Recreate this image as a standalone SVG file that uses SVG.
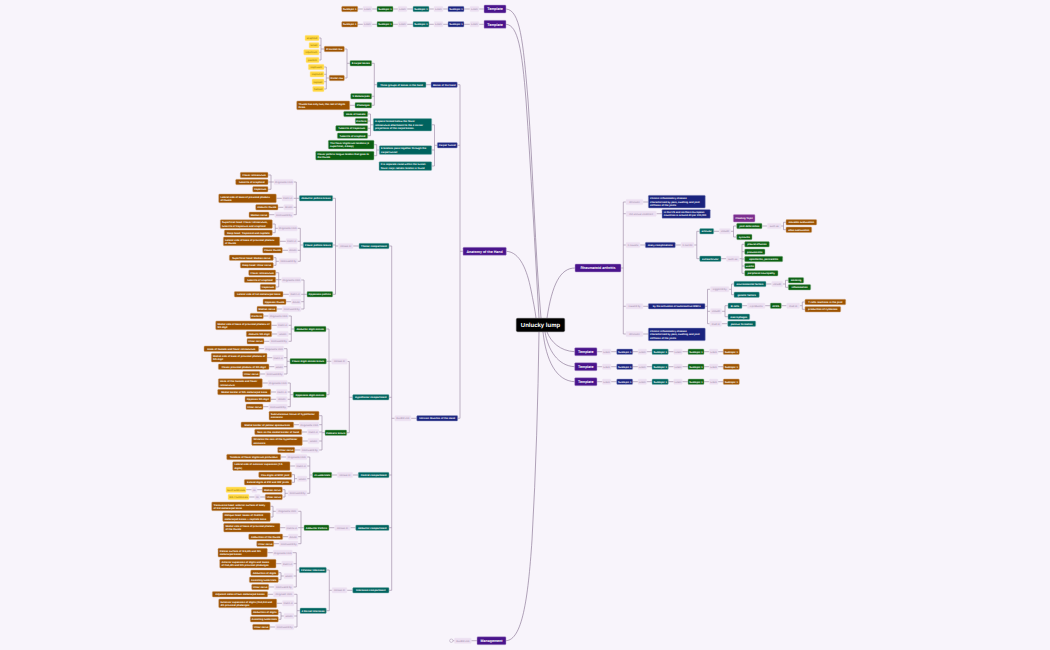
<svg xmlns="http://www.w3.org/2000/svg" width="1050" height="650" viewBox="0 0 1050 650">
<style>
text{font-family:"Liberation Sans",Arial,sans-serif;font-size:2.6px;font-weight:700;fill:#fff;text-anchor:middle;text-rendering:geometricPrecision}
rect{rx:.9px;stroke-width:.5}
.p rect{fill:#4a148c;stroke:#b89fd0}.p text{font-size:3.6px}
.b rect{fill:#1a237e;stroke:#a3a7cc}
.t rect{fill:#00635f;stroke:#8dbdbb}
.g rect{fill:#0b5f12;stroke:#93bd96}
.o rect{fill:#9c5200;stroke:#d3ab80}
.y rect{fill:#ffd740;stroke:#ffe9a0}.y text{fill:#8a6d00;font-weight:400}
.l rect{fill:#ecdff1;stroke:#f1e8f5}.l text{fill:#9a87a6;font-weight:400}
.f rect{fill:#7b2d8e;stroke:#c9a0d2}
.w text{text-anchor:start}
.r rect{fill:#000;stroke:#444;rx:1.4px}.r text{font-size:6px}
#connectors path{fill:none;stroke-linejoin:round}
.e{stroke:#a594ae;stroke-width:.7}
.c{stroke:#7d6889;stroke-width:.6}
</style>
<rect width="1050" height="650" fill="#f8f4fb" style="stroke:none;rx:0"/>
<g id="connectors">
<path class="c" d="M506 9C520 10 523 40 528 100C533 170 535 250 541 318M506 24.3C518 25 522 50 526 100C531 170 535 250 539 318M506.3 251.3C520 252 527 270 531 290C533 300 535 310 536 318M575 268C560 268 552 285 547 318M574.7 351.7C560 351 551 342 547 332M574.7 366.7C558 366 548 350 545 332M574.7 381.7C556 381 546 360 543 332M506 640.7C522 640 528 600 532 540C536 470 538 400 539 332"/>
<path class="e" d="M357 9H484M357 24.3H484M597 351.7H723M597 366.7H723M597 381.7H723
M319 38H321V60H319M319 45.3H321M319 52.3H321M321 49H324.3
M324 67H326.3V89H324M324 74.3H326.3M324 81.7H326.3M326.3 78H329.3
M344.3 49H347V78H344.3M347 63.3H350
M371.7 63.3H374.3V105.3H371.7M371.7 96.3H374.3M374.3 84.7H377
M349.7 105.3H355M426 84.7H431
M457.3 84.7H460V418.3H457.7M457.3 145.3H460M460 251.3H463
M431.7 124.8H434.5V166H431.7M431.7 150H434.5M434.5 145.3H437.3
M367.7 114H370.5V135.7H367.7M367.7 121H370.5M367.7 128.3H370.5M370.5 124.8H373.3
M374 144.7H376.7V155.7H374M376.7 150H379.3
M411 418.3H416.7M389 246H391.7V590.3H389M389 397.3H391.7M389 475H391.7M389 527.7H391.7M391.7 418.3H395
M353 246H359M332.7 198.3H335.5V294.3H332.7M332.7 245H335.5M335.5 246H338.3
M293.3 182H296.3V214.7H293.3M293.3 198.3H299.3M293.3 207.3H296.3
M268 175H271V189.3H268M268 182H274M276.3 198.3H282M278 207.3H283.7M269 214.7H274.7
M297.3 228.3H300.3V261.3H297.3M297.3 241.3H300.3M297.3 250.3H300.3M300.3 245H303.3
M272.3 224H275.2V232.7H272.3M275.2 228.3H278M279.7 241.3H286M282.3 250.3H288.3
M273.3 257.7H276V265.3H273.3M276 261.3H279
M301 280H304V309H301M301 294.3H307M301 301.7H304
M275.7 272.7H278.7V287H275.7M275.7 279.7H281.7M283 294.3H289M286 301.7H291.3M276.7 309H282.3
M347.3 361.5H349.3V432.7H346.7M349.3 397.3H352.7
M326 329H329V394.7H326.3M326.3 361.3H331.7
M288.3 316H291.3V341.3H288.3M288.3 325.3H291.3M288.3 334H291.3M291.3 329H294.3
M263.3 316H268.7M271.3 325.3H277M271.7 334H277.3M264 341.3H269.7
M283.7 348.7H287V374H283.7M283.7 357.7H287M283.7 366.7H287M287 361.3H290
M258.7 348.7H264.3M267 357.7H272.7M269 366.7H274.7M259.7 374H265.3
M287.3 383H290.3V406.7H287.3M287.3 392H290.3M287.3 399.3H290.3M290.3 394.7H293.3
M262.3 383H268M270.7 392H276.3M270.7 399.3H276.3M263 406.7H268.7
M319 415.7H322V450H319M319 424.7H322M319 432H322M319 441H322M322 432.7H325
M293.7 424.7H299.3M301.7 432H307.3M302.3 441H308M294.7 450H300.7
M352.7 475H358.3M331.7 475H337.3M307 457H309.8V493.3H307M307 466H309.8M307 478.7H309.8M309.8 475H312.7
M280.7 457H286.3M290 466H295.3M291.7 474.7H294.5V482.3H291.7M294.5 478.7H297.3M282.3 489.7H285V497H282.3M285 493.3H288M246 489.7H262.3M249 497H265.3
M350.3 527.7H355.7M329 527.7H334.7M298 511.3H301V543.7H298M298 527.7H304M298 536.7H301
M270.3 506.3H273V517H270.3M273 511.3H276M280 527.7H285.7M282.7 536.7H288.3M273.7 543.7H279.3
M347 590.3H352.7M326.3 570H329.3V610.7H326.3M329.3 590.3H332
M292.3 552.7H296.3V587H293.3M293.3 563.7H296.3M293.3 576H296.3M296.3 570H299.3
M267.3 552.7H273M276 563.7H281.7M278.3 572.7H281V579.7H278.3M281 576H284M268.7 587H274.3
M294 594.3H297V627H294M294 603.3H297M294 616H297M297 610.7H300
M267.7 594.3H273.3M276.7 603.3H282.3M278.3 612.3H281V619.3H278.3M281 616H284M269.7 627H275.3
M453 640.7H477
M626 202H623.3V334H626M626 213.7H623.3M626 245H623.3M626 306.3H623.3M621 268H623.3
M643 202H648.3M656.3 213.7H662M640 245H645.3M675.3 245H681M643 306.3H648.3M643 334H648.3
M694 245H696.8M699.7 231.3H696.8V258.7H699.7
M713.7 231.3H719.3M730.7 231.3H733.5M736.7 226H733.5V237H736.7
M762 226H767.3M781 226H783.5M786 222.3H783.5V229.7H786
M721 258.7H726.3M739.3 258.7H742M744.7 244.3H742V273.3H744.7M744.7 251.7H742M744.7 259H742M744.7 266H742
M705 306.3H707.5M710 289.3H707.5V323.7H710M710 311.3H707.5
M729 289.3H731.5M734 284H731.5V294.7H734M766 284H771.7M782.7 284H785.5M788.3 280.3H785.5V287.3H788.3
M721.7 311.3H725M728 305.7H725V316.7H728M742 305.7H747.3M765 305.7H770.3M781.3 305.7H786.7M799.7 305.7H802.3M805 302H802.3V309.3H805
M721.7 323.7H727.7"/>
<circle cx="451.3" cy="640.7" r="1.7" fill="#f8f4fb" stroke="#a594ae" stroke-width=".5"/>
</g>
<g id="root" class="r"><rect x="516.3" y="318.3" width="48.4" height="13.4"/><text x="540.5" y="327.2">Unlucky lump</text></g>
<g id="t1" class="p"><rect x="484" y="5" width="22" height="8"/><text x="495" y="10.3">Template</text></g>
<g id="t2" class="p"><rect x="484" y="20.3" width="22" height="8"/><text x="495" y="25.6">Template</text></g>
<g id="a1" class="o"><rect x="341.7" y="6.3" width="16" height="5.4"/><text x="349.7" y="9.9">Subtopic 1</text></g>
<g id="a2" class="l"><rect x="363" y="6.3" width="9" height="5.4"/><text x="367.5" y="9.9">Linker</text></g>
<g id="a3" class="g"><rect x="377" y="6.3" width="16" height="5.4"/><text x="385" y="9.9">Subtopic 1</text></g>
<g id="a4" class="l"><rect x="398" y="6.3" width="9" height="5.4"/><text x="402.5" y="9.9">Linker</text></g>
<g id="a5" class="t"><rect x="413" y="6.3" width="16" height="5.4"/><text x="421" y="9.9">Subtopic 1</text></g>
<g id="a6" class="l"><rect x="434" y="6.3" width="9" height="5.4"/><text x="438.5" y="9.9">Linker</text></g>
<g id="a7" class="b"><rect x="448" y="6.3" width="16" height="5.4"/><text x="456" y="9.9">Subtopic 1</text></g>
<g id="a8" class="l"><rect x="470" y="6.3" width="9" height="5.4"/><text x="474.5" y="9.9">Linker</text></g>
<g id="b1" class="o"><rect x="341.7" y="21.6" width="16" height="5.4"/><text x="349.7" y="25.2">Subtopic 1</text></g>
<g id="b2" class="l"><rect x="363" y="21.6" width="9" height="5.4"/><text x="367.5" y="25.2">Linker</text></g>
<g id="b3" class="g"><rect x="377" y="21.6" width="16" height="5.4"/><text x="385" y="25.2">Subtopic 1</text></g>
<g id="b4" class="l"><rect x="398" y="21.6" width="9" height="5.4"/><text x="402.5" y="25.2">Linker</text></g>
<g id="b5" class="t"><rect x="413" y="21.6" width="16" height="5.4"/><text x="421" y="25.2">Subtopic 1</text></g>
<g id="b6" class="l"><rect x="434" y="21.6" width="9" height="5.4"/><text x="438.5" y="25.2">Linker</text></g>
<g id="b7" class="b"><rect x="448" y="21.6" width="16" height="5.4"/><text x="456" y="25.2">Subtopic 1</text></g>
<g id="b8" class="l"><rect x="470" y="21.6" width="9" height="5.4"/><text x="474.5" y="25.2">Linker</text></g>
<g id="c1" class="y"><rect x="305" y="35.3" width="14" height="5.4"/><text x="312" y="38.9">scaphoid</text></g>
<g id="c2" class="y"><rect x="309" y="42.6" width="10" height="5.4"/><text x="314" y="46.2">lunate</text></g>
<g id="c3" class="y"><rect x="303.7" y="49.6" width="15.3" height="5.4"/><text x="311.3" y="53.2">triquetrum</text></g>
<g id="c4" class="y"><rect x="306" y="57.3" width="13" height="5.4"/><text x="312.5" y="60.9">pisiform</text></g>
<g id="c5" class="o"><rect x="324.3" y="46.3" width="20" height="5.4"/><text x="334.3" y="49.9">Proximal row</text></g>
<g id="c6" class="o"><rect x="329.3" y="75.3" width="15" height="5.4"/><text x="336.8" y="78.9">Distal row</text></g>
<g id="c7" class="y"><rect x="308.3" y="64.3" width="15.7" height="5.4"/><text x="316.2" y="67.9">trapezium</text></g>
<g id="c8" class="y"><rect x="310" y="71.6" width="14" height="5.4"/><text x="317" y="75.2">trapezoid</text></g>
<g id="c9" class="y"><rect x="312" y="79" width="12" height="5.4"/><text x="318" y="82.6">capitate</text></g>
<g id="c10" class="y"><rect x="312.7" y="86.3" width="11.3" height="5.4"/><text x="318.3" y="89.9">hamate</text></g>
<g id="c11" class="g"><rect x="350" y="60.6" width="21.7" height="5.4"/><text x="360.8" y="64.2">8 carpal bones</text></g>
<g id="c12" class="g"><rect x="350.7" y="93.6" width="21" height="5.4"/><text x="361.2" y="97.2">5 Metacarpals</text></g>
<g id="c13" class="g"><rect x="355" y="102.6" width="16.7" height="5.4"/><text x="363.3" y="106.2">Phalanges</text></g>
<g id="c14" class="o w"><rect x="296.7" y="101" width="53" height="8.7"/><text x="298.5" y="104.6">Thumb has only two, the rest of digits</text><text x="298.5" y="107.9">three.</text></g>
<g id="c15" class="t"><rect x="377" y="82" width="49" height="5.4"/><text x="401.5" y="85.6">Three groups of bones in the hand</text></g>
<g id="c16" class="b"><rect x="431" y="82" width="26.3" height="5.4"/><text x="444.2" y="85.6">Bones of the hand</text></g>
<g id="d1" class="g"><rect x="343.7" y="111.3" width="24" height="5.4"/><text x="355.7" y="114.9">Hook of hamate</text></g>
<g id="d2" class="g"><rect x="355.3" y="118.3" width="12.4" height="5.4"/><text x="361.5" y="121.9">Pisiform</text></g>
<g id="d3" class="g"><rect x="335.7" y="125.6" width="32" height="5.4"/><text x="351.7" y="129.2">Tubercle of trapezium</text></g>
<g id="d4" class="g"><rect x="337.3" y="133" width="30.4" height="5.4"/><text x="352.5" y="136.6">Tubercle of scaphoid</text></g>
<g id="d5" class="t w"><rect x="373.3" y="118.6" width="58.4" height="12.4"/><text x="375" y="122.4">A space formed below the flexor</text><text x="375" y="125.7">retinaculum attachment to the 4 corner</text><text x="375" y="129">projections of the carpal bones.</text></g>
<g id="d6" class="g w"><rect x="328.3" y="140.3" width="45.7" height="8.7"/><text x="330" y="143.9">The flexor digitorum tendons (4</text><text x="330" y="147.2">superficial, 4 deep)</text></g>
<g id="d7" class="g w"><rect x="315.7" y="151.3" width="58.3" height="8.7"/><text x="317.5" y="154.9">Flexor pollicis longus tendon that goes to</text><text x="317.5" y="158.2">the thumb</text></g>
<g id="d8" class="t w"><rect x="379.3" y="145.7" width="52.4" height="8.7"/><text x="381" y="149.3">9 tendons pass together through the</text><text x="381" y="152.6">carpal tunnel</text></g>
<g id="d9" class="t w"><rect x="379" y="161.7" width="52.7" height="8.7"/><text x="380.7" y="165.3">It is separate canal within the tunnel.</text><text x="380.7" y="168.6">flexor carpi radialis tendon is found</text></g>
<g id="d10" class="b"><rect x="437.3" y="142.6" width="20" height="5.4"/><text x="447.3" y="146.2">Carpal Tunnel</text></g>
<g id="m1" class="p"><rect x="463" y="247.3" width="43.3" height="8"/><text x="484.6" y="252.6">Anatomy of the Hand</text></g>
<g id="m2" class="b"><rect x="416.7" y="415.6" width="41" height="5.4"/><text x="437.2" y="419.2">Intrinsic Muscles of the Hand</text></g>
<g id="m3" class="l"><rect x="394.7" y="415.6" width="16.3" height="5.4"/><text x="402.8" y="419.2">divided into</text></g>
<g id="e1" class="o"><rect x="240.3" y="172.3" width="27.7" height="5.4"/><text x="254.2" y="175.9">Flexor retinaculum</text></g>
<g id="e2" class="o"><rect x="235.7" y="179.3" width="32.3" height="5.4"/><text x="251.8" y="182.9">tubercle of scaphoid</text></g>
<g id="e3" class="o"><rect x="252.7" y="186.6" width="15.3" height="5.4"/><text x="260.3" y="190.2">trapezium</text></g>
<g id="e4" class="l"><rect x="274" y="179.3" width="19.3" height="5.4"/><text x="283.7" y="182.9">Originates from</text></g>
<g id="e5" class="o w"><rect x="218.7" y="194" width="57.6" height="8.7"/><text x="220.4" y="197.6">Lateral side of base of proximal phalanx</text><text x="220.4" y="200.9">of thumb</text></g>
<g id="e6" class="l"><rect x="282" y="195.6" width="11.3" height="5.4"/><text x="287.7" y="199.2">Insert in</text></g>
<g id="e7" class="o"><rect x="255.7" y="204.6" width="22.3" height="5.4"/><text x="266.8" y="208.2">Abducts thumb</text></g>
<g id="e8" class="l"><rect x="283.7" y="204.6" width="9.6" height="5.4"/><text x="288.5" y="208.2">Action</text></g>
<g id="e9" class="o"><rect x="249" y="212" width="20" height="5.4"/><text x="259" y="215.6">Median nerve</text></g>
<g id="e10" class="l"><rect x="274.7" y="212" width="18.6" height="5.4"/><text x="284" y="215.6">Innervated by</text></g>
<g id="e11" class="t"><rect x="299.3" y="195.6" width="33.4" height="5.4"/><text x="316" y="199.2">Abductor pollicis brevis</text></g>
<g id="e12" class="t"><rect x="303.3" y="242.3" width="29.4" height="5.4"/><text x="318" y="245.9">Flexor pollicis brevis</text></g>
<g id="e13" class="o w"><rect x="220.3" y="219.7" width="52" height="8.7"/><text x="222" y="223.3">Superficial head: Flexor retinaculum,</text><text x="222" y="226.6">tubercle of trapezium and scaphoid</text></g>
<g id="e14" class="o"><rect x="224.3" y="230" width="48" height="5.4"/><text x="248.3" y="233.6">Deep head: Trapezoid and capitate</text></g>
<g id="e15" class="l"><rect x="278" y="225.6" width="19.3" height="5.4"/><text x="287.7" y="229.2">Originates from</text></g>
<g id="e16" class="o w"><rect x="223.3" y="237" width="56.4" height="8.7"/><text x="225" y="240.6">Lateral side of base of proximal phalanx</text><text x="225" y="243.9">of thumb</text></g>
<g id="e17" class="l"><rect x="286" y="238.6" width="11.3" height="5.4"/><text x="291.7" y="242.2">Insert in</text></g>
<g id="e18" class="o"><rect x="262.7" y="247.6" width="19.6" height="5.4"/><text x="272.5" y="251.2">Flexes thumb</text></g>
<g id="e19" class="l"><rect x="288.3" y="247.6" width="9" height="5.4"/><text x="292.8" y="251.2">Action</text></g>
<g id="e20" class="o"><rect x="229.3" y="255" width="44" height="5.4"/><text x="251.3" y="258.6">Superficial head: Median nerve</text></g>
<g id="e21" class="o"><rect x="240.3" y="262.6" width="33" height="5.4"/><text x="256.8" y="266.2">Deep head: Ulnar nerve</text></g>
<g id="e22" class="l"><rect x="279" y="258.6" width="18.7" height="5.4"/><text x="288.3" y="262.2">Innervated by</text></g>
<g id="e23" class="o"><rect x="248.7" y="270" width="27" height="5.4"/><text x="262.2" y="273.6">Flexor retinaculum</text></g>
<g id="e24" class="o"><rect x="244.3" y="277" width="31.4" height="5.4"/><text x="260" y="280.6">tubercle of scaphoid</text></g>
<g id="e25" class="o"><rect x="260.3" y="284.3" width="15.4" height="5.4"/><text x="268" y="287.9">trapezium</text></g>
<g id="e26" class="l"><rect x="281.7" y="277.3" width="19.3" height="5.4"/><text x="291.3" y="280.9">Originates from</text></g>
<g id="e27" class="o"><rect x="234.3" y="291.6" width="48.7" height="5.4"/><text x="258.7" y="295.2">Lateral side of 1st metacarpal bone</text></g>
<g id="e28" class="l"><rect x="289" y="291.6" width="12" height="5.4"/><text x="295" y="295.2">Insert in</text></g>
<g id="e29" class="o"><rect x="263" y="299" width="23" height="5.4"/><text x="274.5" y="302.6">Opposes thumb</text></g>
<g id="e30" class="l"><rect x="291.3" y="299" width="9.7" height="5.4"/><text x="296.2" y="302.6">Action</text></g>
<g id="e31" class="o"><rect x="257" y="306.3" width="19.7" height="5.4"/><text x="266.8" y="309.9">Median nerve</text></g>
<g id="e32" class="l"><rect x="282.3" y="306.3" width="18.7" height="5.4"/><text x="291.7" y="309.9">Innervated by</text></g>
<g id="e33" class="g"><rect x="307" y="291.6" width="25.7" height="5.4"/><text x="319.8" y="295.2">Opponens pollicis</text></g>
<g id="e34" class="l"><rect x="338.3" y="243.3" width="14.7" height="5.4"/><text x="345.7" y="246.9">consist of</text></g>
<g id="e35" class="t"><rect x="359" y="243.3" width="30" height="5.4"/><text x="374" y="246.9">Thenar compartment</text></g>
<g id="f1" class="o"><rect x="250.3" y="313.3" width="13" height="5.4"/><text x="256.8" y="316.9">Pisiform</text></g>
<g id="f2" class="l"><rect x="268.7" y="313.3" width="19.6" height="5.4"/><text x="278.5" y="316.9">Originates from</text></g>
<g id="f3" class="o w"><rect x="215.7" y="321" width="55.6" height="8.7"/><text x="217.4" y="324.6">Medial side of base of proximal phalanx of</text><text x="217.4" y="327.9">5th digit</text></g>
<g id="f4" class="l"><rect x="277" y="322.6" width="11.3" height="5.4"/><text x="282.7" y="326.2">Insert in</text></g>
<g id="f5" class="o"><rect x="246.3" y="331.3" width="25.4" height="5.4"/><text x="259" y="334.9">Abducts 5th digit</text></g>
<g id="f6" class="l"><rect x="277.3" y="331.3" width="11" height="5.4"/><text x="282.8" y="334.9">action</text></g>
<g id="f7" class="o"><rect x="247" y="338.6" width="17" height="5.4"/><text x="255.5" y="342.2">Ulnar nerve</text></g>
<g id="f8" class="l"><rect x="269.7" y="338.6" width="18.6" height="5.4"/><text x="279" y="342.2">Innervated by</text></g>
<g id="f9" class="g"><rect x="294.3" y="326.3" width="31.7" height="5.4"/><text x="310.2" y="329.9">Abductor digiti minimi</text></g>
<g id="f10" class="o"><rect x="204" y="346" width="54.7" height="5.4"/><text x="231.3" y="349.6">Hook of hamate and flexor retinaculum</text></g>
<g id="f11" class="l"><rect x="264.3" y="346" width="19.4" height="5.4"/><text x="274" y="349.6">Originates from</text></g>
<g id="f12" class="o w"><rect x="211.3" y="353.3" width="55.7" height="8.7"/><text x="213" y="356.9">Medial side of base of proximal phalanx of</text><text x="213" y="360.2">5th digit</text></g>
<g id="f13" class="l"><rect x="272.7" y="355" width="11" height="5.4"/><text x="278.2" y="358.6">Insert in</text></g>
<g id="f14" class="o"><rect x="218.3" y="364" width="50.7" height="5.4"/><text x="243.7" y="367.6">Flexes proximal phalanx of 5th digit</text></g>
<g id="f15" class="l"><rect x="274.7" y="364" width="9" height="5.4"/><text x="279.2" y="367.6">action</text></g>
<g id="f16" class="o"><rect x="242.7" y="371.3" width="17" height="5.4"/><text x="251.2" y="374.9">Ulnar nerve</text></g>
<g id="f17" class="l"><rect x="265.3" y="371.3" width="18.4" height="5.4"/><text x="274.5" y="374.9">Innervated by</text></g>
<g id="f18" class="g"><rect x="290" y="358.6" width="36.3" height="5.4"/><text x="308.2" y="362.2">Flexor digiti minimi brevis</text></g>
<g id="f19" class="o w"><rect x="218.3" y="378.7" width="44" height="8.7"/><text x="220" y="382.3">Hook of the hamate and flexor</text><text x="220" y="385.6">retinaculum</text></g>
<g id="f20" class="l"><rect x="268" y="380.3" width="19.3" height="5.4"/><text x="277.7" y="383.9">Originates from</text></g>
<g id="f21" class="o"><rect x="217.7" y="389.3" width="53" height="5.4"/><text x="244.2" y="392.9">Medial border of 5th metacarpal bone</text></g>
<g id="f22" class="l"><rect x="276.3" y="389.3" width="11" height="5.4"/><text x="281.8" y="392.9">Insert in</text></g>
<g id="f23" class="o"><rect x="245" y="396.6" width="25.7" height="5.4"/><text x="257.8" y="400.2">Opposes 5th digit</text></g>
<g id="f24" class="l"><rect x="276.3" y="396.6" width="11" height="5.4"/><text x="281.8" y="400.2">Action</text></g>
<g id="f25" class="o"><rect x="246" y="404" width="17" height="5.4"/><text x="254.5" y="407.6">Ulnar nerve</text></g>
<g id="f26" class="l"><rect x="268.7" y="404" width="18.6" height="5.4"/><text x="278" y="407.6">Innervated by</text></g>
<g id="f27" class="g"><rect x="293.3" y="392" width="33" height="5.4"/><text x="309.8" y="395.6">Opponens digiti minimi</text></g>
<g id="f28" class="o w"><rect x="269" y="411.3" width="50" height="8.7"/><text x="270.7" y="414.9">Subcutaneous tissue of hypothenar</text><text x="270.7" y="418.2">eminence</text></g>
<g id="f29" class="o"><rect x="241" y="422" width="52.7" height="5.4"/><text x="267.3" y="425.6">Medial border of palmar aponeurosis</text></g>
<g id="f30" class="l"><rect x="299.3" y="422" width="19.7" height="5.4"/><text x="309.2" y="425.6">Originates from</text></g>
<g id="f31" class="o"><rect x="254.7" y="429.3" width="47" height="5.4"/><text x="278.2" y="432.9">Skin on the medial border of hand</text></g>
<g id="f32" class="l"><rect x="307.3" y="429.3" width="11.7" height="5.4"/><text x="313.2" y="432.9">Insert in</text></g>
<g id="f33" class="o w"><rect x="251.7" y="436.7" width="50.6" height="8.7"/><text x="253.4" y="440.3">Wrinkles the skin of the hypothenar</text><text x="253.4" y="443.6">eminence</text></g>
<g id="f34" class="l"><rect x="308" y="438.3" width="11" height="5.4"/><text x="313.5" y="441.9">action</text></g>
<g id="f35" class="o"><rect x="277.7" y="447.3" width="17" height="5.4"/><text x="286.2" y="450.9">Ulnar nerve</text></g>
<g id="f36" class="l"><rect x="300.7" y="447.3" width="18.3" height="5.4"/><text x="309.8" y="450.9">Innervated by</text></g>
<g id="f37" class="g"><rect x="325" y="430" width="21.7" height="5.4"/><text x="335.8" y="433.6">Palmaris brevis</text></g>
<g id="f38" class="l"><rect x="331.7" y="358.8" width="15.6" height="5.4"/><text x="339.5" y="362.4">consist of</text></g>
<g id="f39" class="t"><rect x="352.7" y="394.6" width="36.3" height="5.4"/><text x="370.8" y="398.2">Hypothenar compartment</text></g>
<g id="h1" class="o"><rect x="226.7" y="454.3" width="54" height="5.4"/><text x="253.7" y="457.9">Tendons of flexor digitorum profundus</text></g>
<g id="h2" class="l"><rect x="286.3" y="454.3" width="20.7" height="5.4"/><text x="296.7" y="457.9">Originates from</text></g>
<g id="h3" class="o w"><rect x="232.7" y="461.7" width="57.3" height="8.7"/><text x="234.4" y="465.3">Lateral side of extensor expansion (2-5</text><text x="234.4" y="468.6">digits)</text></g>
<g id="h4" class="l"><rect x="295.3" y="463.3" width="11.7" height="5.4"/><text x="301.2" y="466.9">Insert in</text></g>
<g id="h5" class="o"><rect x="258.7" y="472" width="33" height="5.4"/><text x="275.2" y="475.6">Flex digits at MCP joint</text></g>
<g id="h6" class="o"><rect x="244.3" y="479.6" width="47.4" height="5.4"/><text x="268" y="483.2">Extend digits at PIP and DIP joints</text></g>
<g id="h7" class="l"><rect x="297.3" y="476" width="9.7" height="5.4"/><text x="302.2" y="479.6">action</text></g>
<g id="h8" class="y"><rect x="226" y="487" width="20" height="5.4"/><text x="236" y="490.6">1st-2 lumbricals</text></g>
<g id="h9" class="l"><rect x="251.7" y="487" width="5.3" height="5.4"/><text x="254.3" y="490.6">for</text></g>
<g id="h10" class="o"><rect x="262.3" y="487" width="20" height="5.4"/><text x="272.3" y="490.6">Median nerve</text></g>
<g id="h11" class="y"><rect x="228" y="494.3" width="21" height="5.4"/><text x="238.5" y="497.9">3rd-4 lumbricals</text></g>
<g id="h12" class="l"><rect x="254.7" y="494.3" width="5.3" height="5.4"/><text x="257.3" y="497.9">for</text></g>
<g id="h13" class="o"><rect x="265.3" y="494.3" width="17" height="5.4"/><text x="273.8" y="497.9">Ulnar nerve</text></g>
<g id="h14" class="l"><rect x="288" y="490.6" width="19" height="5.4"/><text x="297.5" y="494.2">Innervated by</text></g>
<g id="h15" class="g"><rect x="312.7" y="472.3" width="19" height="5.4"/><text x="322.2" y="475.9">4 Lumbricals</text></g>
<g id="h16" class="l"><rect x="337.3" y="472.3" width="15.4" height="5.4"/><text x="345" y="475.9">consist of</text></g>
<g id="h17" class="t"><rect x="358.3" y="472.3" width="30.7" height="5.4"/><text x="373.7" y="475.9">Central compartment</text></g>
<g id="i1" class="o w"><rect x="211.7" y="502" width="58.6" height="8.7"/><text x="213.4" y="505.6">Transverse head: anterior surface of body</text><text x="213.4" y="508.9">of 3rd metacarpal bone</text></g>
<g id="i2" class="o w"><rect x="222.7" y="512.7" width="47.6" height="8.7"/><text x="224.4" y="516.3">Oblique head: bases of 2nd/3rd</text><text x="224.4" y="519.6">metacarpal bones + capitate bone</text></g>
<g id="i3" class="l"><rect x="276" y="508.6" width="22" height="5.4"/><text x="287" y="512.2">Originates from</text></g>
<g id="i4" class="o w"><rect x="223.7" y="523.3" width="56.3" height="8.7"/><text x="225.4" y="526.9">Medial side of base of proximal phalanx</text><text x="225.4" y="530.2">of the thumb</text></g>
<g id="i5" class="l"><rect x="285.7" y="525" width="12.3" height="5.4"/><text x="291.8" y="528.6">Inserts in</text></g>
<g id="i6" class="o"><rect x="248.7" y="534" width="34" height="5.4"/><text x="265.7" y="537.6">Adduction of the thumb</text></g>
<g id="i7" class="l"><rect x="288.3" y="534" width="9.7" height="5.4"/><text x="293.2" y="537.6">Action</text></g>
<g id="i8" class="o"><rect x="256.7" y="541" width="17" height="5.4"/><text x="265.2" y="544.6">Ulnar nerve</text></g>
<g id="i9" class="l"><rect x="279.3" y="541" width="18.7" height="5.4"/><text x="288.7" y="544.6">Innervated by</text></g>
<g id="i10" class="g"><rect x="304" y="525" width="25" height="5.4"/><text x="316.5" y="528.6">Adductor Pollicis</text></g>
<g id="i11" class="l"><rect x="334.7" y="525" width="15.6" height="5.4"/><text x="342.5" y="528.6">consist of</text></g>
<g id="i12" class="t"><rect x="355.7" y="525" width="33.3" height="5.4"/><text x="372.3" y="528.6">Adductor compartment</text></g>
<g id="j1" class="o w"><rect x="218" y="548.3" width="49.3" height="8.7"/><text x="219.7" y="551.9">Palmar surface of 3rd,4th and 5th</text><text x="219.7" y="555.2">metacarpal bones</text></g>
<g id="j2" class="l"><rect x="273" y="550" width="19.3" height="5.4"/><text x="282.7" y="553.6">Originates from</text></g>
<g id="j3" class="o w"><rect x="219.7" y="559.3" width="56.3" height="8.7"/><text x="221.4" y="562.9">Anterior expansion of digits and bases</text><text x="221.4" y="566.2">of 2nd,4th and 5th proximal phalanges</text></g>
<g id="j4" class="l"><rect x="281.7" y="561" width="11.6" height="5.4"/><text x="287.5" y="564.6">Insert in</text></g>
<g id="j5" class="o"><rect x="250.7" y="570" width="27.6" height="5.4"/><text x="264.5" y="573.6">Adduction of digits</text></g>
<g id="j6" class="o"><rect x="249.3" y="577" width="29" height="5.4"/><text x="263.8" y="580.6">Assisting lumbricals</text></g>
<g id="j7" class="l"><rect x="284" y="573.3" width="9.3" height="5.4"/><text x="288.7" y="576.9">action</text></g>
<g id="j8" class="o"><rect x="251.7" y="584.3" width="17" height="5.4"/><text x="260.2" y="587.9">Ulnar nerve</text></g>
<g id="j9" class="l"><rect x="274.3" y="584.3" width="19" height="5.4"/><text x="283.8" y="587.9">Innervated by</text></g>
<g id="j10" class="t"><rect x="299.3" y="567.3" width="27" height="5.4"/><text x="312.8" y="570.9">3 Palmar Interossei</text></g>
<g id="j11" class="o"><rect x="212.3" y="591.6" width="55.4" height="5.4"/><text x="240" y="595.2">Adjacent sides of two metacarpal bones</text></g>
<g id="j12" class="l"><rect x="273.3" y="591.6" width="20.7" height="5.4"/><text x="283.7" y="595.2">Originate from</text></g>
<g id="j13" class="o w"><rect x="218.7" y="599" width="58" height="8.7"/><text x="220.4" y="602.6">Extensor expansion of digits (2nd,3rd and</text><text x="220.4" y="605.9">4th proximal phalanges</text></g>
<g id="j14" class="l"><rect x="282.3" y="600.6" width="11.7" height="5.4"/><text x="288.2" y="604.2">Insert in</text></g>
<g id="j15" class="o"><rect x="251.3" y="609.6" width="27" height="5.4"/><text x="264.8" y="613.2">Abduction of digits</text></g>
<g id="j16" class="o"><rect x="250.3" y="616.6" width="28" height="5.4"/><text x="264.3" y="620.2">Assisting lumbricals</text></g>
<g id="j17" class="l"><rect x="284" y="613.3" width="10" height="5.4"/><text x="289" y="616.9">action</text></g>
<g id="j18" class="o"><rect x="252.7" y="624.3" width="17" height="5.4"/><text x="261.2" y="627.9">Ulnar nerve</text></g>
<g id="j19" class="l"><rect x="275.3" y="624.3" width="18.7" height="5.4"/><text x="284.7" y="627.9">Innervated by</text></g>
<g id="j20" class="t"><rect x="300" y="608" width="26.3" height="5.4"/><text x="313.2" y="611.6">4 Dorsal Interossei</text></g>
<g id="j21" class="l"><rect x="332" y="587.6" width="15" height="5.4"/><text x="339.5" y="591.2">consist of</text></g>
<g id="j22" class="t"><rect x="352.7" y="587.6" width="36.3" height="5.4"/><text x="370.8" y="591.2">Interossei compartment</text></g>
<g id="k1" class="l"><rect x="454.3" y="638" width="17" height="5.4"/><text x="462.8" y="641.6">divided into</text></g>
<g id="k2" class="p"><rect x="477" y="636.7" width="29" height="8"/><text x="491.5" y="642">Management</text></g>
<g id="r0" class="p"><rect x="575" y="264" width="46" height="8"/><text x="598" y="269.3">Rheumatoid arthritis</text></g>
<g id="r1" class="l"><rect x="626" y="199.3" width="17" height="5.4"/><text x="634.5" y="202.9">definition</text></g>
<g id="r2" class="b w"><rect x="648.3" y="195.3" width="57" height="12.7"/><text x="650" y="199.2">chronic inflammatory disease</text><text x="650" y="202.5">characterized by pain, swelling and joint</text><text x="650" y="205.8">stiffness of the joints</text></g>
<g id="r3" class="l"><rect x="626" y="211" width="30.3" height="5.4"/><text x="641.2" y="214.6">the annual incidence</text></g>
<g id="r4" class="b w"><rect x="662" y="209.4" width="48.3" height="8.9"/><text x="663.7" y="213.1">in the US and northern European</text><text x="663.7" y="216.4">countries is around 40 per 100,000</text></g>
<g id="r5" class="l"><rect x="626" y="242.3" width="14" height="5.4"/><text x="633" y="245.9">It causes</text></g>
<g id="r6" class="b"><rect x="645.3" y="242.3" width="30" height="5.4"/><text x="660.3" y="245.9">many complications</text></g>
<g id="r7" class="l"><rect x="681" y="242.3" width="13" height="5.4"/><text x="687.5" y="245.9">It can be</text></g>
<g id="r8" class="t"><rect x="699.7" y="228.6" width="14" height="5.4"/><text x="706.7" y="232.2">articular</text></g>
<g id="r9" class="l"><rect x="719.3" y="228.6" width="11.4" height="5.4"/><text x="725" y="232.2">include</text></g>
<g id="r10" class="g"><rect x="736.7" y="223.3" width="25.3" height="5.4"/><text x="749.3" y="226.9">joint deformities</text></g>
<g id="r11" class="g"><rect x="736.7" y="234.3" width="15.3" height="5.4"/><text x="744.3" y="237.9">synovitis</text></g>
<g id="r12" class="f"><rect x="733.3" y="214.6" width="21.7" height="7.4"/><text x="744.2" y="219.2">Floating Topic</text></g>
<g id="r13" class="l"><rect x="767.3" y="223.3" width="13.7" height="5.4"/><text x="774.2" y="226.9">such as</text></g>
<g id="r14" class="o"><rect x="786" y="219.6" width="30.7" height="5.4"/><text x="801.3" y="223.2">movable subluxation</text></g>
<g id="r15" class="o"><rect x="786" y="227" width="25.7" height="5.4"/><text x="798.8" y="230.6">atlas subluxation</text></g>
<g id="r16" class="t"><rect x="699.7" y="256" width="21.3" height="5.4"/><text x="710.3" y="259.6">extraarticular</text></g>
<g id="r17" class="l"><rect x="726.3" y="256" width="13" height="5.4"/><text x="732.8" y="259.6">such as</text></g>
<g id="r18" class="g"><rect x="744.7" y="241.6" width="24.6" height="5.4"/><text x="757" y="245.2">pleural effusion</text></g>
<g id="r19" class="g"><rect x="744.7" y="249" width="20.3" height="5.4"/><text x="754.8" y="252.6">pneumonitis</text></g>
<g id="r20" class="g"><rect x="744.7" y="256.3" width="38" height="5.4"/><text x="763.7" y="259.9">episcleritis, pericarditis</text></g>
<g id="r21" class="g"><rect x="744.7" y="263.3" width="10.3" height="5.4"/><text x="749.8" y="266.9">uveitis</text></g>
<g id="r22" class="g"><rect x="744.7" y="270.6" width="33.3" height="5.4"/><text x="761.3" y="274.2">peripheral neuropathy</text></g>
<g id="s1" class="l"><rect x="626" y="303.6" width="17" height="5.4"/><text x="634.5" y="307.2">caused by</text></g>
<g id="s2" class="b"><rect x="648.3" y="303.6" width="56.7" height="5.4"/><text x="676.7" y="307.2">by the activation of autoreactive WBCs</text></g>
<g id="s3" class="l"><rect x="710.3" y="286.6" width="18.7" height="5.4"/><text x="719.7" y="290.2">triggered by</text></g>
<g id="s4" class="t"><rect x="734" y="281.3" width="32" height="5.4"/><text x="750" y="284.9">environmental factors</text></g>
<g id="s5" class="t"><rect x="734" y="292" width="25.3" height="5.4"/><text x="746.7" y="295.6">genetic factors</text></g>
<g id="s6" class="l"><rect x="771.7" y="281.3" width="11" height="5.4"/><text x="777.2" y="284.9">include</text></g>
<g id="s7" class="g"><rect x="788.3" y="277.6" width="15.4" height="5.4"/><text x="796" y="281.2">smoking</text></g>
<g id="s8" class="g"><rect x="788.3" y="284.6" width="22.4" height="5.4"/><text x="799.5" y="288.2">inflammation</text></g>
<g id="s9" class="l"><rect x="710.3" y="308.6" width="11.4" height="5.4"/><text x="716" y="312.2">include</text></g>
<g id="s10" class="t"><rect x="728" y="303" width="14" height="5.4"/><text x="735" y="306.6">B cells</text></g>
<g id="s11" class="t"><rect x="728" y="314" width="21.7" height="5.4"/><text x="738.8" y="317.6">macrophages</text></g>
<g id="s12" class="l"><rect x="747.3" y="303" width="17.7" height="5.4"/><text x="756.2" y="306.6">it produces</text></g>
<g id="s13" class="g"><rect x="770.3" y="303" width="11" height="5.4"/><text x="775.8" y="306.6">ACPA</text></g>
<g id="s14" class="l"><rect x="786.7" y="303" width="13" height="5.4"/><text x="793.2" y="306.6">lead to</text></g>
<g id="s15" class="o"><rect x="805" y="299.3" width="40.7" height="5.4"/><text x="825.3" y="302.9">T cells reactions in the joint</text></g>
<g id="s16" class="o"><rect x="805" y="306.6" width="35.7" height="5.4"/><text x="822.8" y="310.2">production of cytokines</text></g>
<g id="s17" class="l"><rect x="709.7" y="321" width="12" height="5.4"/><text x="715.7" y="324.6">lead to</text></g>
<g id="s18" class="t"><rect x="727.7" y="321" width="28" height="5.4"/><text x="741.7" y="324.6">pannus formation</text></g>
<g id="s19" class="l"><rect x="626" y="331.3" width="17" height="5.4"/><text x="634.5" y="334.9">definition</text></g>
<g id="s20" class="b w"><rect x="648.3" y="328" width="57" height="12.7"/><text x="650" y="331.9">chronic inflammatory disease</text><text x="650" y="335.2">characterized by pain, swelling and joint</text><text x="650" y="338.5">stiffness of the joints</text></g>
<g id="u1" class="p"><rect x="574.7" y="347.7" width="22.3" height="8"/><text x="585.8" y="353">Template</text></g>
<g id="u2" class="l"><rect x="602.3" y="349" width="8.7" height="5.4"/><text x="606.7" y="352.6">Linker</text></g>
<g id="u3" class="b"><rect x="616.7" y="349" width="16" height="5.4"/><text x="624.7" y="352.6">Subtopic 1</text></g>
<g id="u4" class="l"><rect x="638" y="349" width="8.7" height="5.4"/><text x="642.3" y="352.6">Linker</text></g>
<g id="u5" class="t"><rect x="652" y="349" width="16.3" height="5.4"/><text x="660.2" y="352.6">Subtopic 1</text></g>
<g id="u6" class="l"><rect x="673.7" y="349" width="8.6" height="5.4"/><text x="678" y="352.6">Linker</text></g>
<g id="u7" class="g"><rect x="688" y="349" width="16" height="5.4"/><text x="696" y="352.6">Subtopic 1</text></g>
<g id="u8" class="l"><rect x="709.3" y="349" width="8.7" height="5.4"/><text x="713.7" y="352.6">Linker</text></g>
<g id="u9" class="o"><rect x="723.3" y="349" width="16" height="5.4"/><text x="731.3" y="352.6">Subtopic 1</text></g>
<g id="v1" class="p"><rect x="574.7" y="362.7" width="22.3" height="8"/><text x="585.8" y="368">Template</text></g>
<g id="v2" class="l"><rect x="602.3" y="364" width="8.7" height="5.4"/><text x="606.7" y="367.6">Linker</text></g>
<g id="v3" class="b"><rect x="616.7" y="364" width="16" height="5.4"/><text x="624.7" y="367.6">Subtopic 1</text></g>
<g id="v4" class="l"><rect x="638" y="364" width="8.7" height="5.4"/><text x="642.3" y="367.6">Linker</text></g>
<g id="v5" class="t"><rect x="652" y="364" width="16.3" height="5.4"/><text x="660.2" y="367.6">Subtopic 1</text></g>
<g id="v6" class="l"><rect x="673.7" y="364" width="8.6" height="5.4"/><text x="678" y="367.6">Linker</text></g>
<g id="v7" class="g"><rect x="688" y="364" width="16" height="5.4"/><text x="696" y="367.6">Subtopic 1</text></g>
<g id="v8" class="l"><rect x="709.3" y="364" width="8.7" height="5.4"/><text x="713.7" y="367.6">Linker</text></g>
<g id="v9" class="o"><rect x="723.3" y="364" width="16" height="5.4"/><text x="731.3" y="367.6">Subtopic 1</text></g>
<g id="w1" class="p"><rect x="574.7" y="377.7" width="22.3" height="8"/><text x="585.8" y="383">Template</text></g>
<g id="w2" class="l"><rect x="602.3" y="379" width="8.7" height="5.4"/><text x="606.7" y="382.6">Linker</text></g>
<g id="w3" class="b"><rect x="616.7" y="379" width="16" height="5.4"/><text x="624.7" y="382.6">Subtopic 1</text></g>
<g id="w4" class="l"><rect x="638" y="379" width="8.7" height="5.4"/><text x="642.3" y="382.6">Linker</text></g>
<g id="w5" class="t"><rect x="652" y="379" width="16.3" height="5.4"/><text x="660.2" y="382.6">Subtopic 1</text></g>
<g id="w6" class="l"><rect x="673.7" y="379" width="8.6" height="5.4"/><text x="678" y="382.6">Linker</text></g>
<g id="w7" class="g"><rect x="688" y="379" width="16" height="5.4"/><text x="696" y="382.6">Subtopic 1</text></g>
<g id="w8" class="l"><rect x="709.3" y="379" width="8.7" height="5.4"/><text x="713.7" y="382.6">Linker</text></g>
<g id="w9" class="o"><rect x="723.3" y="379" width="16" height="5.4"/><text x="731.3" y="382.6">Subtopic 1</text></g>
</svg>
